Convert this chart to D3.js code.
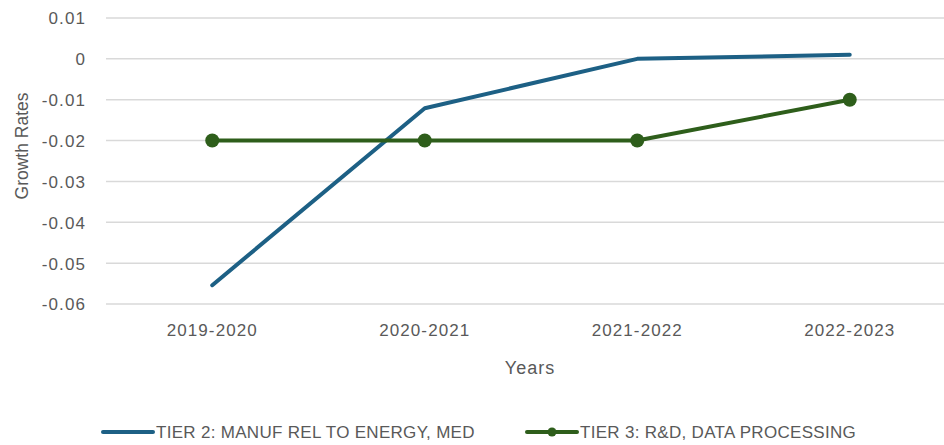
<!DOCTYPE html>
<meta charset="utf-8">
<style>
body { margin: 0; background: #fff; }
text { font-family: 'Liberation Sans', Arial, sans-serif; fill: #595959; }
.tick text { font-size: 17px; letter-spacing: 1.1px; }
.grid line { stroke: #d9d9d9; stroke-width: 1.5px; }
</style>
<body>
<script src="https://d3js.org/d3.v7.min.js"></script>
<script>

const years = ["2019-2020", "2020-2021", "2021-2022", "2022-2023"];
const tier2 = [-0.0554, -0.0121, 0.0, 0.001];
const tier3 = [-0.02, -0.02, -0.02, -0.01];
const yTicks = [0.01, 0, -0.01, -0.02, -0.03, -0.04, -0.05, -0.06];
const seriesNames = ["TIER 2: MANUF REL TO ENERGY, MED", "TIER 3: R&D, DATA PROCESSING"];

let width = 944,
    height = 445,
    margin = {left: 106, top: 18, bottom: 141};

// plain hyphen for negatives, like the original
const fmt = d3.formatLocale({decimal: ".", thousands: ",", grouping: [3], currency: ["$", ""], minus: "-"}).format(".2f");

let svg = d3.select("body").append("svg")
            .attr("width", width)
            .attr("height", height);

let x = d3.scaleBand()
          .domain(years)
          .range([margin.left, margin.left + 4 * 212.5]),
    y = d3.scaleLinear()
          .domain([-0.06, 0.01])
          .range([height - margin.bottom, margin.top]),
    color = d3.scaleOrdinal()
          .domain(seriesNames)
          .range(["#1d6085", "#2e5e1b"]);

// gridlines
svg.append("g")
    .attr("class", "grid")
  .selectAll("line")
  .data(yTicks)
  .join("line")
    .attr("x1", margin.left)
    .attr("x2", width)
    .attr("y1", d => y(d))
    .attr("y2", d => y(d));

// y axis labels
svg.append("g")
    .attr("transform", `translate(${margin.left},0)`)
    .call(d3.axisLeft(y).tickValues(yTicks).tickSize(0).tickPadding(20)
            .tickFormat(d => d === 0 ? "0" : fmt(d)))
    .call(g => g.select(".domain").remove())
    .selectAll("text").attr("dy", "0.35em");

// x axis labels
svg.append("g")
    .attr("transform", `translate(0,${y(-0.06)})`)
    .call(d3.axisBottom(x).tickSize(0).tickPadding(20))
    .call(g => g.select(".domain").remove());

svg.append("text")
    .attr("transform", `translate(28,146) rotate(-90)`)
    .attr("text-anchor", "middle")
    .style("font-size", "17.5px")
    .text("Growth Rates");

svg.append("text")
    .attr("x", 530)
    .attr("y", 374)
    .attr("text-anchor", "middle")
    .style("font-size", "18px")
    .style("letter-spacing", "1px")
    .text("Years");

const line = d3.line()
    .x((d, i) => x(years[i]) + x.bandwidth() / 2)
    .y(d => y(d));

svg.append("path")
    .attr("d", line(tier2))
    .attr("fill", "none")
    .attr("stroke", color(seriesNames[0]))
    .attr("stroke-width", 4)
    .attr("stroke-linecap", "round")
    .attr("stroke-linejoin", "round");

svg.append("path")
    .attr("d", line(tier3))
    .attr("fill", "none")
    .attr("stroke", color(seriesNames[1]))
    .attr("stroke-width", 4)
    .attr("stroke-linejoin", "round");

svg.append("g")
  .selectAll("circle")
  .data(tier3)
  .join("circle")
    .attr("cx", (d, i) => x(years[i]) + x.bandwidth() / 2)
    .attr("cy", d => y(d))
    .attr("r", 7)
    .attr("fill", color(seriesNames[1]));

// legend
const legend = svg.append("g")
    .attr("transform", "translate(0,432)");

const items = legend.selectAll("g")
    .data(seriesNames)
    .join("g")
      .attr("transform", (d, i) => `translate(${[103, 527][i]},0)`);

items.append("line")
    .attr("x1", 0).attr("x2", 50)
    .attr("stroke", color)
    .attr("stroke-width", 4)
    .attr("stroke-linecap", "round");

items.filter((d, i) => i === 1).append("circle")
    .attr("cx", 25)
    .attr("r", 4.5)
    .attr("fill", color);

items.append("text")
    .attr("x", 53)
    .attr("dy", "0.35em")
    .style("font-size", "17px")
    .style("letter-spacing", "0.3px")
    .text(d => d);

</script>
